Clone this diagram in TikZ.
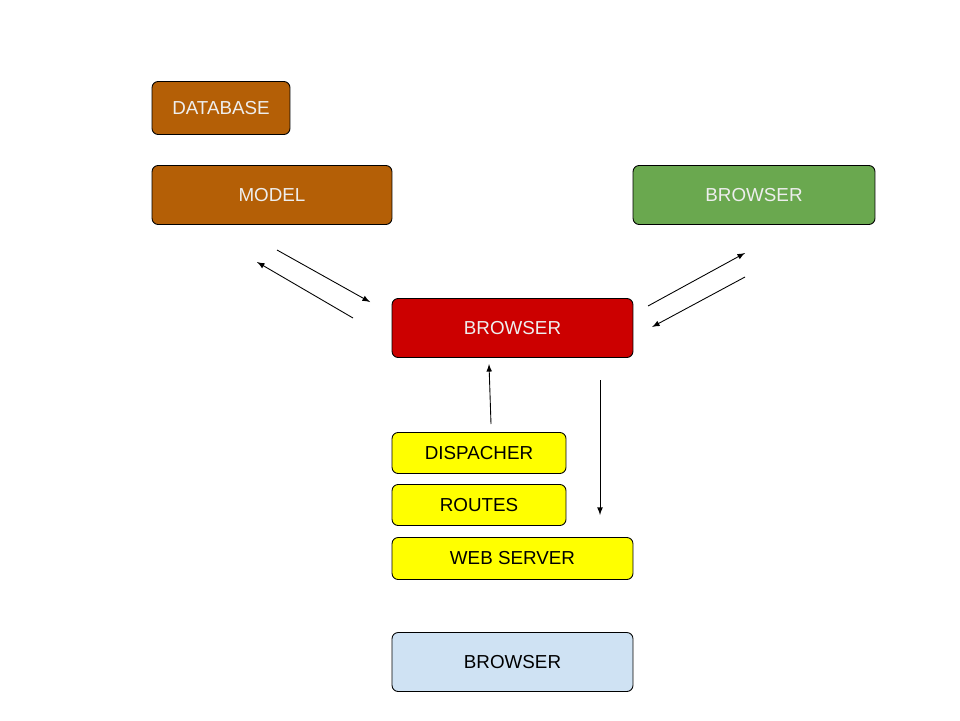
\documentclass[tikz,border=0pt]{standalone}
\usepackage{fontspec}
\setmainfont{Liberation Sans}
\definecolor{brown}{HTML}{B45F06}
\definecolor{green}{HTML}{6AA84F}
\definecolor{red}{HTML}{CC0000}
\definecolor{yellow}{HTML}{FFFF00}
\definecolor{lightblue}{HTML}{CFE2F3}
\definecolor{lighttext}{HTML}{EEEEEE}
\tikzset{
	box/.style={draw=black, line width=0.5pt, rounded corners=3.5pt, inner sep=0pt,
		font=\fontsize{10.7}{12}\selectfont},
	darkbox/.style={box, text=lighttext},
	flow/.style={-latex, line width=0.5pt}
}
\begin{document}
\begin{tikzpicture}[x=0.02cm,y=-0.02cm]
	\useasboundingbox (0,0) rectangle (960,720);

	\node[darkbox, fill=brown, minimum width=2.76cm, minimum height=1.06cm] (database) at (221,108) {DATABASE};
	\node[darkbox, fill=brown, minimum width=4.8cm, minimum height=1.18cm] (model) at (272,195) {MODEL};
	\node[darkbox, fill=green, minimum width=4.84cm, minimum height=1.18cm] (client) at (754,195) {BROWSER};
	\node[darkbox, fill=red, minimum width=4.82cm, minimum height=1.18cm] (controller) at (512.5,328) {BROWSER};

	\node[box, fill=yellow, minimum width=3.48cm, minimum height=0.82cm] (dispacher) at (479,453) {DISPACHER};
	\node[box, fill=yellow, minimum width=3.48cm, minimum height=0.82cm] (routes) at (479,505) {ROUTES};
	\node[box, fill=yellow, minimum width=4.82cm, minimum height=0.84cm] (webserver) at (512.5,558.5) {WEB SERVER};
	\node[box, fill=lightblue, minimum width=4.82cm, minimum height=1.18cm] (browser) at (512.5,662) {BROWSER};

	% arrow ends
	\coordinate (m1) at (277,250);
	\coordinate (c1) at (370,302);
	\coordinate (c2) at (353,318);
	\coordinate (m2) at (257,262);
	\coordinate (c3) at (648,306);
	\coordinate (g1) at (745,253);
	\coordinate (g2) at (745,277);
	\coordinate (c4) at (652,327);
	\coordinate (d1) at (491,424);
	\coordinate (c5) at (489,364);
	\coordinate (c6) at (600,380);
	\coordinate (w1) at (600,515);

	\draw[flow] (m1) -- (c1);
	\draw[flow] (c2) -- (m2);
	\draw[flow] (c3) -- (g1);
	\draw[flow] (g2) -- (c4);
	\draw[flow] (d1) -- (c5);
	\draw[flow] (c6) -- (w1);

\end{tikzpicture}
\end{document}
